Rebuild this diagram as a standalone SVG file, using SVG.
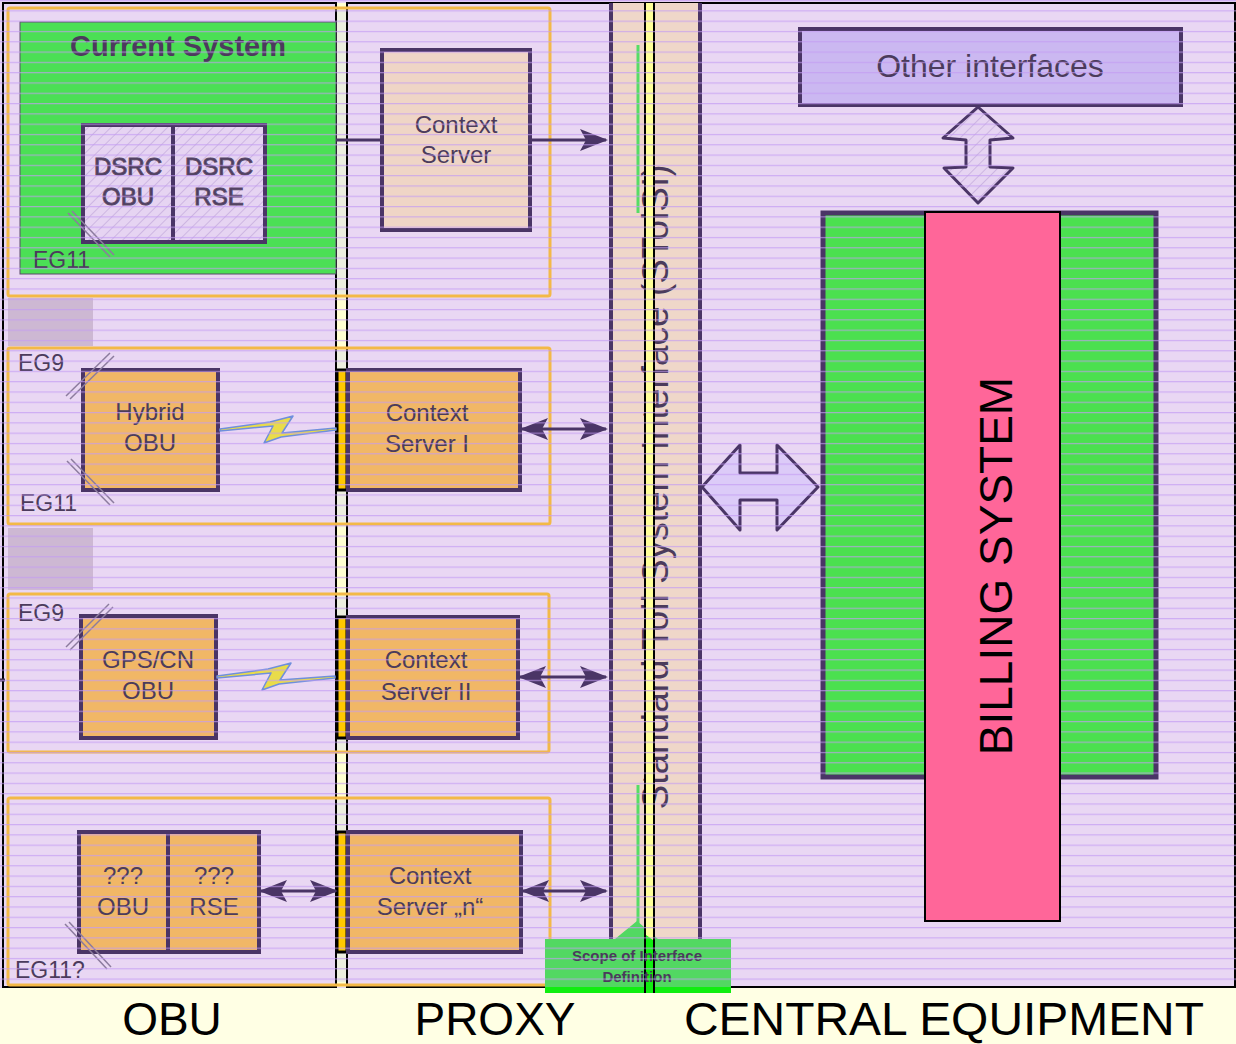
<svg xmlns="http://www.w3.org/2000/svg" width="1236" height="1044" viewBox="0 0 1236 1044">
<defs>
<style>
.t{font-family:"Liberation Sans",Arial,sans-serif;fill:#4B3B5C}
.band{fill:none;stroke:#F3B947;stroke-width:3}
.obox{fill:#F1B766;stroke:#4A3566;stroke-width:4}
.conn{stroke:#4A3566;stroke-width:3;fill:none}
.strike{stroke:#8C7C9E;stroke-width:1.5}
.bolt{fill:#E9DC4A;stroke:#6F8FDD;stroke-width:1.5;stroke-linejoin:round}
.lbl{font-family:"Liberation Sans",Arial,sans-serif;font-size:46px;fill:#000}
</style>
<pattern id="hl" width="20" height="10.3" patternUnits="userSpaceOnUse"><rect width="20" height="1.2" fill="#C39BF3"/></pattern>
<pattern id="hatch" width="8" height="8" patternUnits="userSpaceOnUse" patternTransform="rotate(45)"><rect width="8" height="8" fill="#E6D4F2"/><rect width="1" height="8" fill="#CDB6E2"/></pattern>
<marker id="ah" viewBox="0 0 28 22" markerUnits="userSpaceOnUse" markerWidth="28" markerHeight="22" refX="26" refY="11" orient="auto-start-reverse"><path d="M0,0 L28,11 L0,22 L6,11 z" fill="#4A3566"/></marker>
</defs>

<!-- backgrounds -->
<rect width="1236" height="1044" fill="#FFFFE4"/>
<rect x="0" y="0" width="1236" height="988" fill="#E9D7F3"/>

<g id="panels">
<rect x="3" y="3" width="333" height="984" fill="none" stroke="#000" stroke-width="2"/>
<rect x="347" y="3" width="888" height="984" fill="none" stroke="#000" stroke-width="2"/>
<rect x="336" y="3" width="11" height="984" fill="#FFFFD2"/>
<rect x="336" y="10" width="11" height="284" fill="#ECEEDF"/>
<rect x="336" y="350" width="11" height="172" fill="#ECEEDF"/>
<rect x="336" y="596" width="11" height="154" fill="#ECEEDF"/>
<rect x="336" y="800" width="11" height="182" fill="#ECEEDF"/>
<line x1="336" y1="3" x2="336" y2="987" stroke="#000" stroke-width="2"/>
<line x1="347" y1="3" x2="347" y2="987" stroke="#000" stroke-width="2"/>
<rect x="8" y="298" width="85" height="48" fill="#CDB8D3"/>
<rect x="8" y="528" width="85" height="62" fill="#CDB8D3"/>
<line x1="0" y1="680" x2="5" y2="680" stroke="#3A2A4A" stroke-width="3"/>
</g>

<g id="bands">
<rect class="band" x="8" y="8" width="542" height="288" rx="2"/>
<rect class="band" x="8" y="348" width="542" height="176" rx="2"/>
<rect class="band" x="8" y="594" width="541" height="158" rx="2"/>
<rect class="band" x="8" y="798" width="542" height="187" rx="2"/>
</g>

<g id="stsi">
<rect x="610" y="3" width="90" height="984" fill="#EFD7C9"/>
<line x1="611" y1="3" x2="611" y2="987" stroke="#4A3566" stroke-width="4"/>
<line x1="700" y1="3" x2="700" y2="987" stroke="#4A3566" stroke-width="4"/>
<line x1="638" y1="45" x2="638" y2="213" stroke="#55DD66" stroke-width="3"/>
<line x1="638" y1="785" x2="638" y2="925" stroke="#55DD66" stroke-width="3"/>
<text class="t" transform="translate(668,487) rotate(-90)" text-anchor="middle" font-size="37" fill="#2E2040">Standard Toll System Interface (STolSI)</text>
</g>

<g id="scope">
<path d="M545,939 L615,939 L637,921 L658,939 L731,939 L731,993 L545,993 Z" fill="#52D862"/>
<rect x="545" y="987" width="186" height="6" fill="#10EE10"/>
<rect x="646" y="3" width="7" height="990" fill="#FFFF99"/>
<path d="M646,935 L653,940 L653,993 L646,993 Z" fill="#10EE10"/>
<line x1="645" y1="3" x2="645" y2="993" stroke="#000" stroke-width="2"/>
<line x1="654" y1="3" x2="654" y2="993" stroke="#000" stroke-width="2"/>
<text class="t" x="637" y="961" text-anchor="middle" font-size="15" font-weight="bold" fill="#4E4E5E">Scope of Interface</text>
<text class="t" x="637" y="982" text-anchor="middle" font-size="15" font-weight="bold" fill="#4E4E5E">Definition</text>
</g>

<g id="current-system">
<rect x="20" y="22" width="316" height="252" fill="#4BDF55" stroke="#5A4A6A" stroke-width="1"/>
<text class="t" x="178" y="56" text-anchor="middle" font-size="29" font-weight="bold" fill="#553F66">Current System</text>
<text class="t" x="33" y="268" font-size="23">EG11</text>
</g>
<g id="dsrc-obu">
<rect x="83" y="125" width="90" height="117" fill="url(#hatch)" stroke="#4A3566" stroke-width="4"/>
<text class="t" x="128" y="175" text-anchor="middle" font-size="24" fill="#DCCCE8" stroke="#5A4A6A" stroke-width="1">DSRC</text>
<text class="t" x="128" y="205" text-anchor="middle" font-size="24" fill="#DCCCE8" stroke="#5A4A6A" stroke-width="1">OBU</text>
</g>
<g id="dsrc-rse">
<rect x="173" y="125" width="92" height="117" fill="url(#hatch)" stroke="#4A3566" stroke-width="4"/>
<text class="t" x="219" y="175" text-anchor="middle" font-size="24" fill="#DCCCE8" stroke="#5A4A6A" stroke-width="1">DSRC</text>
<text class="t" x="219" y="205" text-anchor="middle" font-size="24" fill="#DCCCE8" stroke="#5A4A6A" stroke-width="1">RSE</text>
</g>

<g id="hybrid-obu">
<rect class="obox" x="83" y="370" width="135" height="120"/>
<text class="t" x="150" y="420" text-anchor="middle" font-size="24">Hybrid</text>
<text class="t" x="150" y="451" text-anchor="middle" font-size="24">OBU</text>
<text class="t" x="18" y="371" font-size="23">EG9</text>
<text class="t" x="20" y="511" font-size="23">EG11</text>
</g>
<g id="gps-obu">
<rect class="obox" x="81" y="616" width="135" height="122"/>
<text class="t" x="148" y="668" text-anchor="middle" font-size="24">GPS/CN</text>
<text class="t" x="148" y="699" text-anchor="middle" font-size="24">OBU</text>
<text class="t" x="18" y="621" font-size="23">EG9</text>
</g>
<g id="unknown-obu">
<rect class="obox" x="79" y="832" width="89" height="120"/>
<text class="t" x="123" y="884" text-anchor="middle" font-size="24">???</text>
<text class="t" x="123" y="915" text-anchor="middle" font-size="24">OBU</text>
<text class="t" x="15" y="978" font-size="23">EG11?</text>
</g>
<g id="unknown-rse">
<rect class="obox" x="168" y="832" width="91" height="120"/>
<text class="t" x="214" y="884" text-anchor="middle" font-size="24">???</text>
<text class="t" x="214" y="915" text-anchor="middle" font-size="24">RSE</text>
</g>

<g id="strikes">
<line class="strike" x1="68" y1="213" x2="110" y2="257"/><line class="strike" x1="72" y1="211" x2="114" y2="255"/>
<line class="strike" x1="66" y1="396" x2="110" y2="353"/><line class="strike" x1="70" y1="399" x2="114" y2="356"/>
<line class="strike" x1="67" y1="461" x2="110" y2="505"/><line class="strike" x1="71" y1="459" x2="114" y2="503"/>
<line class="strike" x1="66" y1="647" x2="109" y2="604"/><line class="strike" x1="70" y1="650" x2="113" y2="607"/>
<line class="strike" x1="65" y1="924" x2="107" y2="969"/><line class="strike" x1="69" y1="922" x2="111" y2="967"/>
</g>

<g id="context-server">
<rect x="382" y="50" width="148" height="180" fill="#EFD5C6" stroke="#4A3566" stroke-width="4"/>
<text class="t" x="456" y="133" text-anchor="middle" font-size="24">Context</text>
<text class="t" x="456" y="163" text-anchor="middle" font-size="24">Server</text>
</g>
<g id="context-server-1">
<rect x="337" y="370" width="10" height="120" fill="#FFC800" stroke="#000" stroke-width="3"/>
<rect class="obox" x="348" y="370" width="172" height="120"/>
<text class="t" x="427" y="421" text-anchor="middle" font-size="24">Context</text>
<text class="t" x="427" y="452" text-anchor="middle" font-size="24">Server I</text>
</g>
<g id="context-server-2">
<rect x="337" y="617" width="10" height="121" fill="#FFC800" stroke="#000" stroke-width="3"/>
<rect class="obox" x="348" y="617" width="170" height="121"/>
<text class="t" x="426" y="668" text-anchor="middle" font-size="24">Context</text>
<text class="t" x="426" y="700" text-anchor="middle" font-size="24">Server II</text>
</g>
<g id="context-server-n">
<rect x="337" y="832" width="10" height="120" fill="#FFC800" stroke="#000" stroke-width="3"/>
<rect class="obox" x="348" y="832" width="173" height="120"/>
<text class="t" x="430" y="884" text-anchor="middle" font-size="24">Context</text>
<text class="t" x="430" y="915" text-anchor="middle" font-size="24">Server „n“</text>
</g>

<g id="other-interfaces">
<rect x="800" y="29" width="381" height="76" fill="#CBB8F1" stroke="#4A3566" stroke-width="4"/>
<text class="t" x="990" y="77" text-anchor="middle" font-size="32">Other interfaces</text>
</g>
<g id="central-system">
<rect x="823" y="213" width="333" height="564" fill="#4BE04F" stroke="#4A3566" stroke-width="5"/>
</g>

<g id="connectors">
<line class="conn" x1="336" y1="140" x2="382" y2="140" stroke="#000"/>
<line class="conn" x1="530" y1="140" x2="606" y2="140" marker-end="url(#ah)"/>
<line class="conn" x1="522" y1="429" x2="606" y2="429" marker-start="url(#ah)" marker-end="url(#ah)"/>
<line class="conn" x1="520" y1="677" x2="606" y2="677" marker-start="url(#ah)" marker-end="url(#ah)"/>
<line class="conn" x1="523" y1="891" x2="606" y2="891" marker-start="url(#ah)" marker-end="url(#ah)"/>
<line class="conn" x1="261" y1="891" x2="336" y2="891" marker-start="url(#ah)" marker-end="url(#ah)"/>
<path class="bolt" d="M220,429 L270,422 L293,416 L282,433 L336,428 L336,430 L281,437 L264,443 L273,426 L220,431 Z"/>
<path class="bolt" d="M217,676 L268,669 L291,663 L280,680 L335,676 L335,678 L279,684 L262,690 L271,673 L217,678 Z"/>
<path d="M978,107 L1013,138 L990,140 L990,167 L1013,168 L978,203 L944,168 L966,167 L966,140 L943,138 Z" fill="url(#hatch)" stroke="#4A3566" stroke-width="3" stroke-linejoin="round"/>
<path d="M702,487 L740,445 L740,473 L777,473 L777,445 L818,487 L777,530 L777,500 L740,500 L740,530 Z" fill="#DCCBF8" stroke="#4A3566" stroke-width="3" stroke-linejoin="round"/>
</g>

<rect x="0" y="0" width="1236" height="988" fill="url(#hl)" opacity="0.7"/>

<g id="billing-system">
<rect x="925" y="212" width="135" height="709" fill="#FF6699" stroke="#000" stroke-width="2"/>
<text class="lbl" transform="translate(1012,566) rotate(-90)" text-anchor="middle" font-size="47">BILLING SYSTEM</text>
</g>

<g id="labels">
<text class="lbl" x="172" y="1035" text-anchor="middle">OBU</text>
<text class="lbl" x="495" y="1035" text-anchor="middle">PROXY</text>
<text class="lbl" x="944" y="1035" text-anchor="middle" textLength="520" lengthAdjust="spacingAndGlyphs">CENTRAL EQUIPMENT</text>
</g>
</svg>
